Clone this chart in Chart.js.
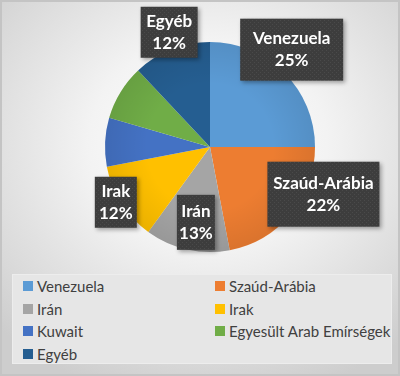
<!DOCTYPE html>
<html>
<head>
<meta charset="utf-8">
<script src="https://cdn.jsdelivr.net/npm/chart.js@4/dist/chart.umd.min.js"></script>
<style>
  html, body { margin: 0; padding: 0; }
  #wrap {
    position: relative;
    width: 400px;
    height: 376px;
    box-sizing: border-box;
    border: 2px solid #c4c4c4;
    background: radial-gradient(ellipse 75% 70% at 52% 38%, #ffffff 0%, #f3f3f3 40%, #dadada 80%, #cdcdcd 100%);
    overflow: hidden;
  }
  #chart { position: absolute; left: -2px; top: -2px; }
  #legend {
    position: absolute;
    left: 10px; top: 272px;
    width: 380px; height: 90px;
    box-sizing: border-box;
    background: #e6e6e6;
    border: 1px solid #ededed;
    font-family: Lato, 'Open Sans', sans-serif;
    font-size: 15px;
    color: #404040;
  }
  .item { position: absolute; white-space: nowrap; line-height: 18px; }
  .item i { position: absolute; left: 0; top: 4px; width: 10px; height: 10px; }
  .item span { position: absolute; left: 14px; top: 0; }
</style>
</head>
<body>
<div id="wrap">
  <canvas id="chart" width="400" height="376"></canvas>
  <div id="legend"></div>
</div>
<script>
// data
const countries = ['Venezuela', 'Szaúd-Arábia', 'Irán', 'Irak', 'Kuwait', 'Egyesült Arab Emírségek', 'Egyéb'];
const shares = [25, 22, 13, 12, 7.5, 8.5, 12];
const shownLabels = ['25%', '22%', '13%', '12%', null, null, '12%'];

const sliceColors = ['#5b9bd5', '#ed7d31', '#a5a5a5', '#ffc000', '#4472c4', '#70ad47', '#255e91'];

// where each data label box sits: radius factor, angle shift (deg), box size
const labelBoxes = {
  0: { f: 1.21, shift: -5, w: 103, h: 62 },
  1: { f: 1.17, shift: -17, w: 112, h: 65 },
  2: { f: 0.73, shift: -2, w: 38, h: 55 },
  3: { f: 1.04, shift: 2, w: 42, h: 51 },
  6: { f: 1.16, shift: 2, w: 57, h: 51 }
};

// dotted dark fill like the Excel label style
function makePattern(ctx) {
  const c = document.createElement('canvas');
  c.width = 4; c.height = 4;
  const p = c.getContext('2d');
  p.fillStyle = '#3d3d3d';
  p.fillRect(0, 0, 4, 4);
  p.fillStyle = '#4a4a4a';
  p.fillRect(0, 0, 1, 1);
  p.fillRect(2, 2, 1, 1);
  return ctx.createPattern(c, 'repeat');
}

const shadePlugin = {
  id: 'shade',
  afterDatasetsDraw(chart) {
    const arc = chart.getDatasetMeta(0).data[0];
    if (!arc) return;
    const ctx = chart.ctx;
    const r = arc.outerRadius;
    const g = ctx.createRadialGradient(arc.x, arc.y, r * 0.6, arc.x, arc.y, r);
    g.addColorStop(0, 'rgba(0,0,0,0)');
    g.addColorStop(1, 'rgba(0,0,0,0.08)');
    ctx.save();
    ctx.beginPath();
    ctx.arc(arc.x, arc.y, r, 0, Math.PI * 2);
    ctx.fillStyle = g;
    ctx.fill();
    ctx.restore();
  }
};

const labelPlugin = {
  id: 'boxLabels',
  afterDraw(chart) {
    const ctx = chart.ctx;
    const meta = chart.getDatasetMeta(0);
    const fill = makePattern(ctx);
    ctx.save();
    ctx.font = 'bold 17px Lato, "Open Sans", sans-serif';
    ctx.textAlign = 'center';
    ctx.textBaseline = 'middle';
    meta.data.forEach((arc, i) => {
      const spec = labelBoxes[i];
      if (!spec || !shownLabels[i]) return;
      const mid = (arc.startAngle + arc.endAngle) / 2 + spec.shift * Math.PI / 180;
      const cx = arc.x + Math.cos(mid) * arc.outerRadius * spec.f;
      const cy = arc.y + Math.sin(mid) * arc.outerRadius * spec.f;
      const x = cx - spec.w / 2, y = cy - spec.h / 2;
      ctx.shadowColor = 'rgba(0,0,0,0.35)';
      ctx.shadowBlur = 4;
      ctx.shadowOffsetX = 2;
      ctx.shadowOffsetY = 2;
      ctx.fillStyle = fill;
      ctx.fillRect(x, y, spec.w, spec.h);
      ctx.shadowColor = 'transparent';
      ctx.fillStyle = '#ffffff';
      ctx.fillText(chart.data.labels[i], cx, cy - 11);
      ctx.fillText(shownLabels[i], cx, cy + 11);
    });
    ctx.restore();
  }
};

const chart = new Chart(document.getElementById('chart'), {
  type: 'pie',
  data: {
    labels: countries,
    datasets: [{
      data: shares,
      backgroundColor: sliceColors,
      borderWidth: 0
    }]
  },
  options: {
    responsive: false,
    animation: false,
    layout: { padding: { top: 42, bottom: 124, left: 105, right: 85 } },
    plugins: {
      legend: { display: false },
      tooltip: { enabled: false }
    }
  },
  plugins: [shadePlugin, labelPlugin]
});

// two-column legend built from the chart data
const legendEl = document.getElementById('legend');
chart.data.labels.forEach((name, i) => {
  const col = i % 2, row = Math.floor(i / 2);
  const item = document.createElement('div');
  item.className = 'item';
  item.style.left = (col === 0 ? 10 : 202) + 'px';
  item.style.top = (2 + row * 22.5) + 'px';
  item.innerHTML = '<i style="background:' + sliceColors[i] + '"></i><span></span>';
  item.querySelector('span').textContent = name;
  legendEl.appendChild(item);
});
</script>
</body>
</html>
